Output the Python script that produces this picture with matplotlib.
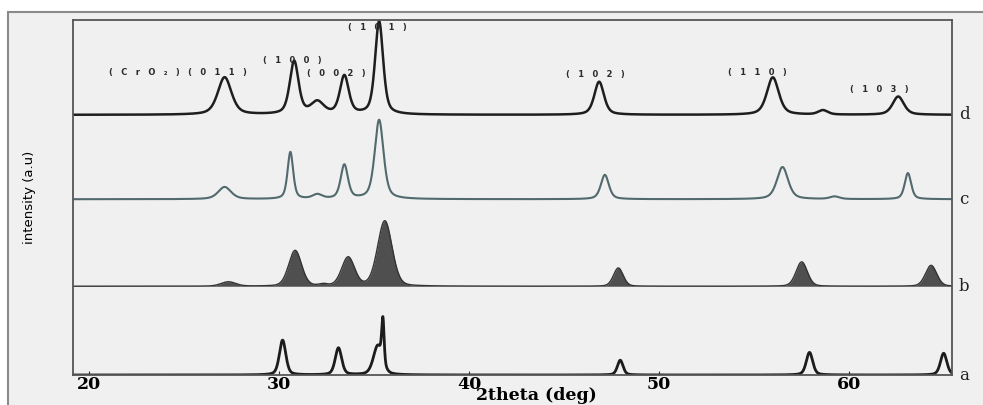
import numpy as np
import matplotlib
matplotlib.use("Agg")
import matplotlib.pyplot as plt
from matplotlib.patches import Rectangle

# ---- data ----
two_theta_range = (19.16, 65.42)
sample_names = ["a", "b", "c", "d"]
offsets = [0.0, 1.02, 2.02, 2.99]

# peak positions (deg), heights (a.u. above each baseline), FWHM (deg)
pos_a = [30.19, 33.13, 35.20, 35.47, 47.96, 57.92, 64.98]
hgt_a = [0.40, 0.31, 0.33, 0.50, 0.17, 0.26, 0.25]
fw_a = [0.40, 0.40, 0.55, 0.15, 0.35, 0.40, 0.40]

pos_b = [27.34, 30.85, 32.32, 33.64, 35.57, 47.86, 57.51, 64.32]
hgt_b = [0.05, 0.41, 0.02, 0.33, 0.75, 0.21, 0.28, 0.24]
fw_b = [0.90, 0.80, 0.50, 0.80, 0.90, 0.60, 0.70, 0.70]

pos_c = [27.14, 30.60, 32.02, 33.44, 35.27, 47.15, 56.50, 59.24, 63.10]
hgt_c = [0.14, 0.54, 0.05, 0.39, 0.91, 0.28, 0.37, 0.03, 0.30]
fw_c = [0.80, 0.35, 0.60, 0.45, 0.55, 0.50, 0.70, 0.60, 0.40]

pos_d = [27.14, 30.80, 32.02, 33.44, 35.27, 46.85, 55.99, 58.63, 62.59]
hgt_d = [0.43, 0.61, 0.14, 0.44, 1.07, 0.38, 0.43, 0.05, 0.21]
fw_d = [0.85, 0.55, 0.80, 0.55, 0.50, 0.60, 0.74, 0.60, 0.70]

peak_labels = ["(CrO₂)(011)", "(100)", "(002)", "(101)", "(102)", "(110)", "(103)"]
label_x = [24.70, 30.70, 33.03, 35.17, 46.65, 55.18, 61.59]
label_y = [3.48, 3.62, 3.47, 3.99, 3.45, 3.48, 3.28]

x_ticks = [20, 30, 40, 50, 60]
x_label = "2theta (deg)"
y_label = "intensity (a.u)"

colors = {"a": "#1c1c1c", "b": "#333333", "c": "#52696d", "d": "#1e1e1e"}
etas = {"a": 0.4, "b": 0.2, "c": 0.5, "d": 0.5}


def profile(x, pos, hgt, fw, eta=0.5):
    y = np.zeros_like(x)
    for p, h, w in zip(pos, hgt, fw):
        g = np.exp(-4 * np.log(2) * ((x - p) / w) ** 2)
        lo = 1.0 / (1 + 4 * ((x - p) / w) ** 2)
        y += h * (eta * lo + (1 - eta) * g)
    return y


def spaced(s):
    return "\u2003".join(list(s))


fig = plt.figure(figsize=(9.83, 4.05), dpi=100, facecolor="white")
# outer grey frame
bg = fig.add_axes([0, 0, 1, 1], zorder=-5)
bg.set_xlim(0, 983)
bg.set_ylim(405, 0)
bg.axis("off")
bg.add_patch(Rectangle((8, 12), 990, 400, facecolor="#f0f0f0",
                       edgecolor="#8a8a8a", linewidth=1.5))

ax = fig.add_axes([73 / 983, 1 - 375 / 405, (952 - 73) / 983, (375 - 20) / 405])
ax.set_facecolor("#f0f0f0")

x = np.linspace(two_theta_range[0], two_theta_range[1], 5000)
series = {
    "a": (pos_a, hgt_a, fw_a),
    "b": (pos_b, hgt_b, fw_b),
    "c": (pos_c, hgt_c, fw_c),
    "d": (pos_d, hgt_d, fw_d),
}
for name, off in zip(sample_names, offsets):
    p, h, w = series[name]
    y = profile(x, p, h, w, etas[name]) + off
    col = colors[name]
    if name == "b":
        ax.fill_between(x, off, y, color=col, alpha=0.85, linewidth=0)
        ax.plot(x, y, color=col, lw=1.0)
    elif name == "a":
        ax.plot(x, y, color=col, lw=2.0)
    elif name == "c":
        ax.plot(x, y, color=col, lw=1.5)
    else:
        ax.plot(x, y, color=col, lw=1.8)
    ax.text(1.008, off, name, transform=ax.get_yaxis_transform(),
            fontsize=12, family="DejaVu Serif", va="center", ha="left",
            color="#222222")

for t, lx, ly in zip(peak_labels, label_x, label_y):
    ax.text(lx, ly, spaced(t), fontsize=6, fontweight="bold", color="#2a2a2a",
            family="DejaVu Sans", ha="center", va="center")

ax.set_xlim(*two_theta_range)
ax.set_ylim(0, 4.08)
ax.set_xticks(x_ticks)
ax.set_xticklabels([str(v) for v in x_ticks], fontsize=12.5, fontweight="bold",
                   family="DejaVu Serif")
ax.tick_params(axis="x", direction="in", length=3, pad=1, color="#333333")
ax.set_yticks([])
ax.set_xlabel(x_label, fontsize=12.5, fontweight="bold", family="DejaVu Serif",
              labelpad=-3)
ax.xaxis.set_label_coords(0.527, -0.035, transform=ax.transAxes)
ax.xaxis.label.set_va("top")
ax.set_ylabel(y_label, fontsize=9.5, family="DejaVu Sans", labelpad=0)
ax.yaxis.set_label_coords(-0.042, 0.5)
for s in ax.spines.values():
    s.set_color("#555555")
    s.set_linewidth(1.3)

fig.savefig("out.png", dpi=100)
